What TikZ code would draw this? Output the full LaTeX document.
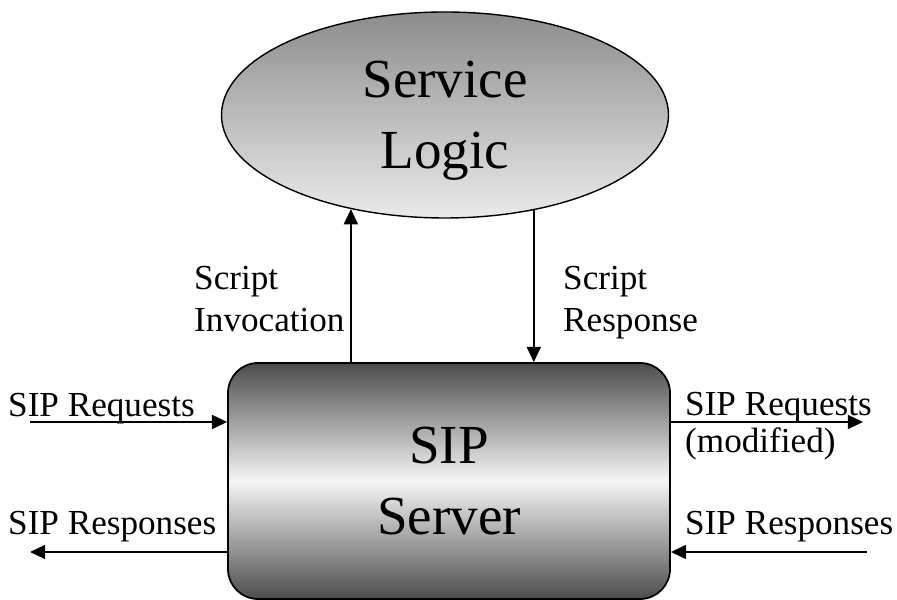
\documentclass[tikz,border=0pt]{standalone}
\usepackage{fontspec}
\setmainfont{Liberation Serif}
\usetikzlibrary{shapes.geometric,arrows.meta}

\begin{document}
\begin{tikzpicture} [
        x=0.03cm, y=0.03cm,
        logic/.style={ellipse,draw,line width=1.2pt,inner sep=0pt,
            minimum width=13.41cm,minimum height=6.18cm,
            top color=black!45,bottom color=black!8,
            font=\fontsize{47}{61}\selectfont,align=center,text depth=0pt},
        server/.style={rectangle,rounded corners=0.9cm,draw,line width=1.5pt,inner sep=0pt,
            minimum width=13.26cm,minimum height=7.08cm,
            top color=black!70,bottom color=black!70,middle color=black!4,
            font=\fontsize{47}{61}\selectfont,align=center},
        label/.style={anchor=base west,inner sep=0pt,font=\fontsize{30}{36}\selectfont},
        flow/.style={draw,line width=1.5pt,-{Triangle[length=13pt,width=12pt]}},
    ]
    \useasboundingbox (0,0) rectangle (897,600);
    % First we draw the two boxes
    \node[logic] (logic) at (445,485) {Service\\Logic};
    \node[server] (server) at (449,119) {SIP\\Server};
    % Free ends of the SIP messages
    \coordinate (reqin) at (30,178);
    \coordinate (resout) at (30,48);
    \coordinate (reqout) at (863,178);
    \coordinate (resin) at (867,48);
    % Connect the boxes and the outside with arrows
    \path[flow] (server.north -| logic.225.2) -- (logic.225.2);
    \path[flow] (logic.313.3) -- (logic.313.3 |- server.north);
    \path[flow] (reqin) -- (reqin -| server.west);
    \path[flow] (resout -| server.west) -- (resout);
    \path[flow] (reqout -| server.east) -- (reqout);
    \path[flow] (resin) -- (resin -| server.east);
    % Labels of the arrows (base is the last line)
    \node[label,align=left] (invocation) at (194,268) {Script\\Invocation};
    \node[label,align=left] (response) at (563,268) {Script\\Response};
    \node[label] (reqinlabel) at (8,183) {SIP Requests};
    \node[label] (resoutlabel) at (8,65) {SIP Responses};
    \node[label,align=left,font=\fontsize{30}{32}\selectfont] (reqoutlabel) at (685,147) {SIP Requests\\(modified)};
    \node[label] (resinlabel) at (685,65) {SIP Responses};
\end{tikzpicture}
\end{document}
